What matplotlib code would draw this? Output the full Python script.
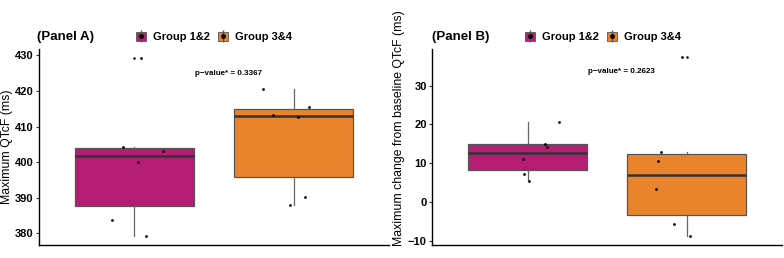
import matplotlib
matplotlib.use('Agg')
import matplotlib.pyplot as plt
from matplotlib.patches import Patch
from matplotlib.lines import Line2D

plt.rcParams['font.family'] = 'Liberation Sans'
plt.rcParams['font.weight'] = 'bold'

groups = ['Group 1&2', 'Group 3&4']
colors = ['#B51D74', '#E9842C']

# Panel A: maximum QTcF (ms)
qtcf_g12 = [429.3, 404.2, 400.1, 403.1, 383.7, 379.2]
qtcf_g34 = [420.5, 413.3, 415.4, 412.8, 388.0, 390.2]
jit_a12 = [0.04, -0.07, 0.02, 0.18, -0.14, 0.07]
jit_a34 = [-0.19, -0.13, 0.10, 0.03, -0.02, 0.07]
p_a = 'p\u2212value* = 0.3367'

# Panel B: maximum change from baseline QTcF (ms)
dqtcf_g12 = [20.6, 15.1, 14.2, 11.0, 7.3, 5.6]
dqtcf_g34 = [37.3, 13.0, 10.6, 3.4, -5.6, -8.7]
jit_b12 = [0.20, 0.11, 0.12, -0.03, -0.02, 0.01]
jit_b34 = [-0.03, -0.16, -0.18, -0.19, -0.08, 0.02]
p_b = 'p\u2212value* = 0.2623'

fig = plt.figure(figsize=(7.84, 2.58), dpi=100)
axA = fig.add_axes([39 / 784, 13 / 258, 350 / 784, 196 / 258])
axB = fig.add_axes([432.3 / 784, 13.3 / 258, 349.7 / 784, 195.7 / 258])


def panel(ax, d1, d2, j1, j2, ylim, yticks, ylabel, ptxt, pxy):
    bp = ax.boxplot([d1, d2], positions=[1, 2], widths=0.75, patch_artist=True,
                    showcaps=False, whis=1.5,
                    boxprops=dict(edgecolor='#555555', linewidth=0.9),
                    whiskerprops=dict(color='#666666', linewidth=0.9),
                    medianprops=dict(color='#333333', linewidth=1.8),
                    flierprops=dict(marker='o', markersize=1.8, markerfacecolor='black',
                                    markeredgewidth=0))
    for patch, c in zip(bp['boxes'], colors):
        patch.set_facecolor(c)
    for i, (d, j) in enumerate([(d1, j1), (d2, j2)]):
        xs = [i + 1 + o for o in j]
        ax.scatter(xs, d, s=4, color='black', zorder=5, linewidths=0)
    ax.set_xlim(0.4, 2.6)
    ax.set_ylim(*ylim)
    ax.set_yticks(yticks)
    ax.set_xticks([])
    for s in ['top', 'right']:
        ax.spines[s].set_visible(False)
    for s in ['left', 'bottom']:
        ax.spines[s].set_linewidth(1.0)
    ax.tick_params(axis='y', length=2.5, width=0.8, color='#333333', labelsize=8,
                   pad=1.5)
    ax.set_ylabel(ylabel, fontsize=8.8, va='center')
    ax.text(pxy[0], pxy[1], ptxt, ha='center', va='center', fontsize=5.8)


panel(axA, qtcf_g12, qtcf_g34, jit_a12, jit_a34, (376.7, 431.8),
      [380, 390, 400, 410, 420, 430], 'Maximum QTcF (ms)', p_a, (1.59, 424.8))
panel(axB, dqtcf_g12, dqtcf_g34, jit_b12, jit_b34, (-10.9, 39.4),
      [-10, 0, 10, 20, 30], 'Maximum change from baseline QTcF (ms)', p_b, (1.59, 33.6))
axA.yaxis.set_label_coords(-0.091, 0.5)
axB.yaxis.set_label_coords(-0.095, 0.597)

handles = []
for c in colors:
    handles.append((Patch(facecolor=c, edgecolor='#555555', linewidth=0.6),
                    Line2D([], [], marker='|', markersize=9, color='#555555', linestyle='None'),
                    Line2D([], [], marker='o', markersize=2.5, color='black', linestyle='None')))

fig.text(37 / 784, 1 - 37 / 258, '(Panel A)', fontsize=9.5, ha='left', va='center')
fig.text(432 / 784, 1 - 37 / 258, '(Panel B)', fontsize=9.5, ha='left', va='center')
for cx in [214, 603]:
    fig.legend(handles, groups, loc='center', bbox_to_anchor=(cx / 784, 1 - 37 / 258),
               ncol=2, frameon=False, fontsize=8, handlelength=0.9, handleheight=0.9,
               handletextpad=0.6, columnspacing=0.8, borderpad=0)

fig.savefig('out.png', dpi=100)
